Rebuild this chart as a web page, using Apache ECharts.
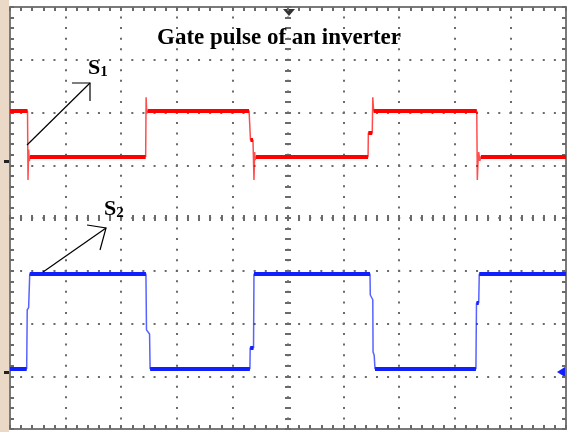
<!DOCTYPE html>
<html><head><meta charset="utf-8">
<script src="https://cdn.jsdelivr.net/npm/echarts@6/dist/echarts.min.js"></script>
<style>html,body{margin:0;padding:0;background:#fff}#c{width:569px;height:432px}</style>
</head><body><div id="c"></div>
<script>
// Axes are in scope divisions: time -5..5, amplitude -4..4
const titleText = 'Gate pulse of an inverter';
const xDivs = [-5, 5];
const yDivs = [-4, 4];

// S1 (red) gate pulse: time (div), level (div)
const s1Time  = [-5, -4.685, -4.676, -4.665, -4.652, -4.64, -2.56, -2.552, -2.54, -2.525, -0.70, -0.675, -0.63, -0.612, -0.60, -0.59, -0.575, 1.44, 1.445, 1.515, 1.525, 1.54, 3.395, 3.405, 3.415, 3.43, 3.45, 3.47, 5];
const s1Value = [2.03, 2.03, 0.72, 1.30, 1.08, 1.16, 1.16, 2.29, 1.98, 2.03, 2.03, 1.48, 1.48, 0.72, 1.25, 1.10, 1.16, 1.16, 1.61, 1.61, 2.29, 2.03, 2.03, 0.72, 1.00, 1.25, 1.08, 1.16, 1.16];

// S2 (blue) gate pulse
const s2Time  = [-5, -4.70, -4.69, -4.665, -4.645, -2.555, -2.545, -2.49, -2.48, -0.685, -0.68, -0.62, -0.612, 1.475, 1.48, 1.525, 1.53, 1.55, 1.565, 3.38, 3.39, 3.43, 3.44, 5];
const s2Value = [-2.86, -2.86, -1.74, -1.70, -1.06, -1.06, -2.12, -2.20, -2.86, -2.86, -2.46, -2.46, -1.06, -1.06, -1.46, -1.55, -2.54, -2.60, -2.86, -2.86, -1.61, -1.61, -1.06, -1.06];

// annotation labels and arrows (in divisions)
const labelNames = ['S', 'S'];
const labelSubs  = ['1', '2'];
const labelPos   = [[-3.597, 2.834], [-3.309, 0.161]];
const arrowShafts = [[[-4.694, 1.384], [-3.561, 2.559]], [[-4.406, -1.024], [-3.273, -0.190]]];
const arrowHeads  = [[[-3.885, 2.559], [-3.561, 2.559], [-3.561, 2.218]], [[-3.615, -0.133], [-3.273, -0.190], [-3.381, -0.607]]];

function zip(a, b) { return a.map((t, i) => [t, b[i]]); }
function levels(a, b) {
  const segs = [];
  for (let i = 0; i < a.length - 1; i++) {
    if (b[i] === b[i + 1]) segs.push({ coords: [[a[i], b[i]], [a[i + 1], b[i + 1]]] });
  }
  return segs;
}

const gridCol = '#6a6a6a';
function xAx(grid, pos, onZero, tickLen, split) {
  return {
    type: 'value', gridIndex: grid, position: pos, min: xDivs[0], max: xDivs[1], interval: 1,
    axisLine: { show: !onZero, onZero: onZero, lineStyle: { color: '#7a7a7a', width: 2 } },
    axisTick: { show: true, inside: true, length: tickLen, lineStyle: { color: gridCol, width: 2 } },
    minorTick: { show: true, splitNumber: 5, length: tickLen, lineStyle: { color: gridCol, width: 2 } },
    axisLabel: { show: false },
    splitLine: { show: split, lineStyle: { color: gridCol, width: 2, type: [2, 8.55], dashOffset: 1 } }
  };
}
function yAx(grid, pos, onZero, tickLen, split) {
  return {
    type: 'value', gridIndex: grid, position: pos, min: yDivs[0], max: yDivs[1], interval: 1,
    axisLine: { show: !onZero, onZero: onZero, lineStyle: { color: '#7a7a7a', width: 2 } },
    axisTick: { show: true, inside: true, length: tickLen, lineStyle: { color: gridCol, width: 2 } },
    minorTick: { show: true, splitNumber: 5, length: tickLen, lineStyle: { color: gridCol, width: 2 } },
    axisLabel: { show: false },
    splitLine: { show: split, lineStyle: { color: gridCol, width: 2, type: [2, 9.12], dashOffset: 1 } }
  };
}

const chart = echarts.init(document.getElementById('c'), null, { renderer: 'canvas' });
const box = { left: 10, top: 7, right: 3, bottom: 3 };
chart.setOption({
  animation: false,
  backgroundColor: '#fff',
  title: {
    text: titleText, left: 157, top: 27, padding: 0,
    textStyle: { fontFamily: 'Liberation Serif', fontWeight: 'bold', fontSize: 23, color: '#000' }
  },
  grid: [Object.assign({}, box), Object.assign({}, box)],
  xAxis: [xAx(0, 'bottom', false, 4, true), xAx(0, 'top', false, 4, false), xAx(1, 'bottom', true, 3, false), xAx(1, 'top', true, 3, false)],
  yAxis: [yAx(0, 'left', false, 4, true), yAx(0, 'right', false, 4, false), yAx(1, 'left', true, 3, false), yAx(1, 'right', true, 3, false)],
  graphic: [
    { type: 'rect', shape: { x: 0, y: 0, width: 9, height: 432 }, style: { fill: '#ead9c6' }, z: -1 },
    { type: 'rect', shape: { x: 4, y: 160, width: 6, height: 3 }, style: { fill: '#222' } },
    { type: 'rect', shape: { x: 4, y: 371, width: 6, height: 3 }, style: { fill: '#222' } },
    { type: 'polygon', shape: { points: [[283, 9], [295, 9], [289, 16]] }, style: { fill: '#333' } },
    { type: 'polygon', shape: { points: [[557, 372], [565, 367], [565, 377]] }, style: { fill: '#1020ff' } }
  ],
  series: [
    { type: 'line', xAxisIndex: 0, yAxisIndex: 0, data: zip(s1Time, s1Value), showSymbol: false, z: 3,
      lineStyle: { color: '#ff0000', width: 1.5, opacity: 0.7 } },
    { type: 'lines', coordinateSystem: 'cartesian2d', xAxisIndex: 0, yAxisIndex: 0, data: levels(s1Time, s1Value), z: 4,
      lineStyle: { color: '#ff0000', width: 4, opacity: 1, cap: 'butt' } },
    { type: 'line', xAxisIndex: 0, yAxisIndex: 0, data: zip(s2Time, s2Value), showSymbol: false, z: 3,
      lineStyle: { color: '#1020ff', width: 1.5, opacity: 0.7 } },
    { type: 'lines', coordinateSystem: 'cartesian2d', xAxisIndex: 0, yAxisIndex: 0, data: levels(s2Time, s2Value), z: 4,
      lineStyle: { color: '#1020ff', width: 4, opacity: 1, cap: 'butt' } },
    { type: 'lines', coordinateSystem: 'cartesian2d', polyline: true, xAxisIndex: 0, yAxisIndex: 0, z: 5,
      data: arrowShafts.concat(arrowHeads).map(c => ({ coords: c })),
      lineStyle: { color: '#000', width: 1.2, opacity: 1 } },
    { type: 'scatter', xAxisIndex: 0, yAxisIndex: 0, symbolSize: 0, z: 6,
      itemStyle: { color: '#000', opacity: 1 },
      data: labelPos.map((p, i) => ({ value: p, name: labelNames[i] })),
      label: {
        show: true, position: [0, 0], align: 'left', verticalAlign: 'middle', color: '#000', opacity: 1,
        textBorderWidth: 0,
        formatter: (p) => '{s|' + labelNames[p.dataIndex] + '}{b|' + labelSubs[p.dataIndex] + '}',
        rich: {
          s: { fontFamily: 'Liberation Serif', fontWeight: 'bold', fontSize: 22, color: '#000', lineHeight: 22, verticalAlign: 'bottom' },
          b: { fontFamily: 'Liberation Serif', fontWeight: 'bold', fontSize: 15, color: '#000', lineHeight: 22, verticalAlign: 'bottom' }
        }
      } }
  ]
});
</script></body></html>
